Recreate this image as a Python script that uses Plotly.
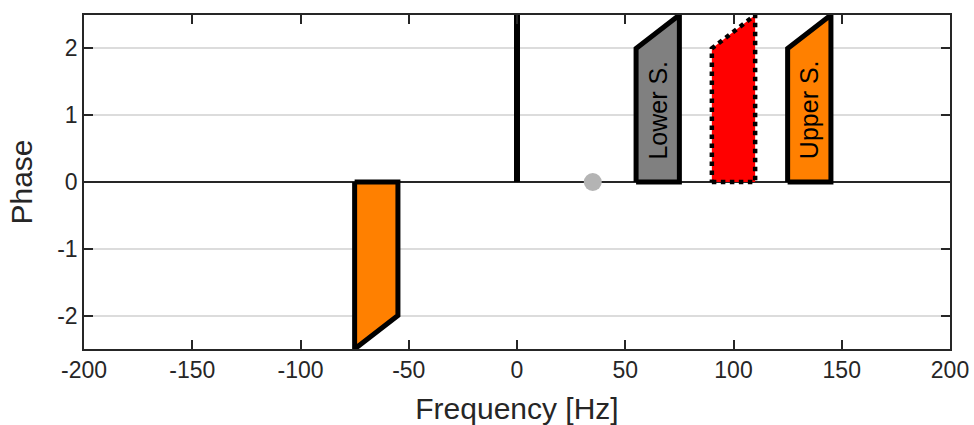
import plotly.graph_objects as go

# Data
band_f_lo = [-75, 55, 90, 125]          # lower frequency edge of each band [Hz]
band_f_hi = [-55, 75, 110, 145]         # upper frequency edge [Hz]
band_phase_lo = [-2.5, 2.0, 2.0, 2.0]   # phase at lower edge
band_phase_hi = [-2.0, 2.5, 2.5, 2.5]   # phase at upper edge
band_colors = ["#FF8000", "#808080", "#FF0000", "#FF8000"]
band_dash = ["solid", "solid", "dot", "solid"]
band_labels = ["", "Lower S.", "", "Upper S."]

carrier_f = [0, 0]
carrier_phase = [0, 2.5]
dot_f = [35]
dot_phase = [0]

x_ticks = [-200, -150, -100, -50, 0, 50, 100, 150, 200]
y_ticks = [-2, -1, 0, 1, 2]

FONT = "Liberation Sans, Arial, Helvetica, sans-serif"
AX = "#262626"

fig = go.Figure()

for lo, hi, plo, phi, c, d in zip(band_f_lo, band_f_hi, band_phase_lo, band_phase_hi, band_colors, band_dash):
    fig.add_trace(go.Scatter(
        x=[lo, hi, hi, lo, lo], y=[0, 0, phi, plo, 0],
        mode="lines", fill="toself", fillcolor=c,
        line=dict(color="black", width=5 if d == "solid" else 4.5, dash=d),
        hoverinfo="skip", showlegend=False))

fig.add_trace(go.Scatter(x=carrier_f, y=carrier_phase, mode="lines",
                         line=dict(color="black", width=6), showlegend=False))
fig.add_trace(go.Scatter(x=dot_f, y=dot_phase, mode="markers",
                         marker=dict(color="#b4b4b4", size=18), showlegend=False))

for lo, hi, lab in zip(band_f_lo, band_f_hi, band_labels):
    if lab:
        fig.add_annotation(x=(lo + hi) / 2, y=1.08, text=lab, textangle=-90,
                           showarrow=False, font=dict(family=FONT, size=25, color="black"))

fig.update_layout(
    width=974, height=425,
    margin=dict(l=84, r=24, t=15, b=76, autoexpand=False),
    plot_bgcolor="white", paper_bgcolor="white",
    font=dict(family=FONT, color=AX),
)
fig.update_xaxes(
    range=[-200, 200], tickvals=x_ticks, ticktext=[str(v) for v in x_ticks],
    showgrid=False, zeroline=False,
    showline=True, linecolor=AX, linewidth=1.5, mirror="allticks",
    ticks="inside", ticklen=9, tickwidth=1.5, tickcolor=AX,
    tickfont=dict(size=23, family=FONT, color=AX),
    title=dict(text="Frequency [Hz]", font=dict(size=30, family=FONT, color=AX), standoff=20),
)
fig.update_yaxes(
    range=[-2.5, 2.5], tickvals=y_ticks, ticktext=[str(v) for v in y_ticks],
    showgrid=True, gridcolor="#dcdcdc", gridwidth=1.5,
    zeroline=True, zerolinecolor=AX, zerolinewidth=1.5,
    showline=True, linecolor=AX, linewidth=1.5, mirror="allticks",
    ticks="inside", ticklen=9, tickwidth=1.5, tickcolor=AX,
    tickfont=dict(size=23, family=FONT, color=AX),
    title=dict(text="Phase", font=dict(size=30, family=FONT, color=AX), standoff=16),
)

fig.write_html("out.html")
